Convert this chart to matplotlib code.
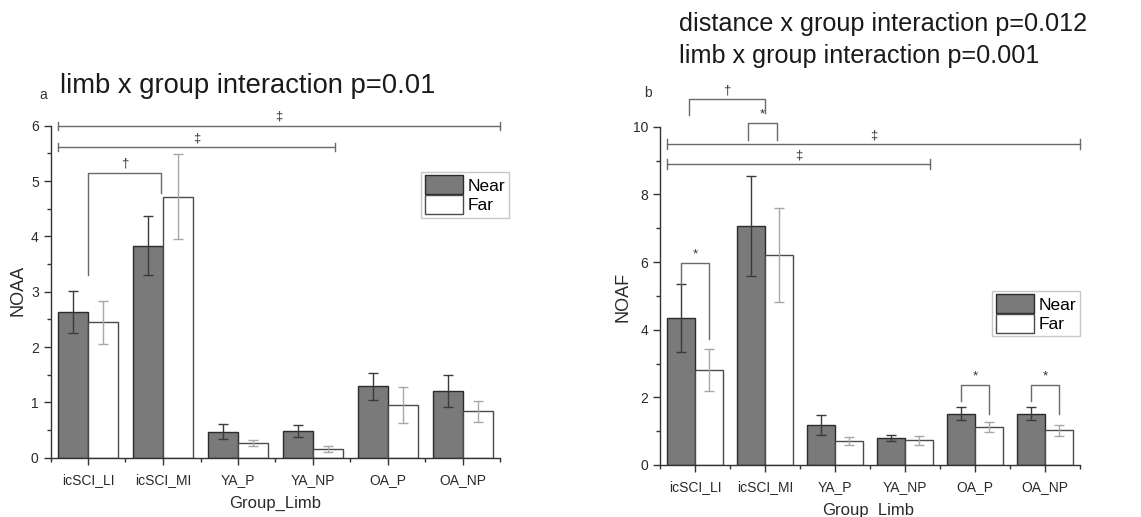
import numpy as np
import matplotlib
matplotlib.use("Agg")
import matplotlib.pyplot as plt
from matplotlib.ticker import MultipleLocator, FixedLocator

plt.rcParams["font.family"] = ["Liberation Sans", "DejaVu Sans"]

# ---- data ------------------------------------------------------------------
groups = ["icSCI_LI", "icSCI_MI", "YA_P", "YA_NP", "OA_P", "OA_NP"]

noaa_near = [2.64, 3.83, 0.47, 0.48, 1.29, 1.21]
noaa_near_err = [0.38, 0.53, 0.14, 0.11, 0.24, 0.29]
noaa_far = [2.45, 4.72, 0.27, 0.16, 0.95, 0.84]
noaa_far_err = [0.39, 0.77, 0.05, 0.06, 0.32, 0.19]

noaf_near = [4.34, 7.07, 1.18, 0.80, 1.52, 1.52]
noaf_near_err = [1.00, 1.48, 0.29, 0.10, 0.19, 0.20]
noaf_far = [2.82, 6.21, 0.71, 0.73, 1.13, 1.03]
noaf_far_err = [0.62, 1.40, 0.13, 0.14, 0.14, 0.16]

# brackets: (x1, x2, y, y_leg1, y_leg2, symbol)
brackets_a = [
    (0.6, 6.5, 6.0, 5.93, 5.93, "‡"),
    (0.6, 4.29, 5.61, 5.54, 5.54, "‡"),
    (1.0, 1.97, 5.15, 3.30, 4.79, "†"),
]
brackets_b = [
    (0.91, 2.0, 10.81, 10.35, 10.40, "†"),
    (1.75, 2.17, 10.1, 9.6, 9.6, "*"),
    (0.6, 6.5, 9.48, 9.33, 9.33, "‡"),
    (0.6, 4.36, 8.89, 8.74, 8.74, "‡"),
    (0.8, 1.2, 5.96, 5.34, 3.72, "*"),
    (4.8, 5.2, 2.36, 1.90, 1.50, "*"),
    (5.8, 6.2, 2.36, 1.90, 1.50, "*"),
]

W, H = 1141, 517
fig = plt.figure(figsize=(W / 100, H / 100), dpi=100)

NEAR_C = "#7a7a7a"
BRK_C = "#6a6a6a"


def panel(rect, near, near_err, far, far_err, ylim, ymajor, yminor, ylabel,
          brackets, leg_anchor, ylab_xy, xlab_xy):
    ax = fig.add_axes(rect)
    x = np.arange(1, len(groups) + 1)
    w = 0.4
    ax.bar(x - w / 2, near, w, color=NEAR_C, edgecolor="#2b2b2b", lw=1,
           label="Near", zorder=2)
    ax.bar(x + w / 2, far, w, color="white", edgecolor="#4a4a4a", lw=1,
           label="Far", zorder=2)
    ax.errorbar(x - w / 2, near, yerr=near_err, fmt="none", ecolor="#3a3a3a",
                elinewidth=1, capsize=3.5, capthick=1, zorder=3)
    ax.errorbar(x + w / 2, far, yerr=far_err, fmt="none", ecolor="#a8a8a8",
                elinewidth=1, capsize=3.5, capthick=1, zorder=3)

    for x1, x2, y, l1, l2, sym in brackets:
        ax.plot([x1, x1, x2, x2], [l1, y, y, l2], color=BRK_C, lw=1,
                clip_on=False, zorder=4)
        if sym == "‡":
            ax.plot([x1, x1], [y, 2 * y - l1], color=BRK_C, lw=1,
                    clip_on=False)
            ax.plot([x2, x2], [y, 2 * y - l2], color=BRK_C, lw=1,
                    clip_on=False)
        ax.annotate(sym, ((x1 + x2) / 2, y), xytext=(0, 2),
                    textcoords="offset points", ha="center", va="bottom",
                    fontsize=9.5, color="#333333", annotation_clip=False)

    ax.set_xlim(0.5, 6.5)
    ax.set_ylim(*ylim)
    ax.set_xticks(x)
    ax.set_xticklabels(groups)
    ax.xaxis.set_minor_locator(FixedLocator(np.arange(0.5, 7, 1)))
    ax.yaxis.set_major_locator(MultipleLocator(ymajor))
    ax.yaxis.set_minor_locator(MultipleLocator(yminor))
    ax.tick_params(axis="both", which="major", length=5, width=1,
                   color="#333333", labelsize=10, labelcolor="#2a2a2a")
    ax.tick_params(axis="both", which="minor", length=3, width=1,
                   color="#333333")
    ax.tick_params(axis="x", pad=6)
    for s in ("top", "right"):
        ax.spines[s].set_visible(False)
    for s in ("left", "bottom"):
        ax.spines[s].set_color("#333333")
        ax.spines[s].set_linewidth(1)

    leg = ax.legend(loc="upper right", bbox_to_anchor=leg_anchor,
                    fontsize=12.5, frameon=True, fancybox=False,
                    borderpad=0.2, borderaxespad=0, handlelength=2.2,
                    handleheight=1.3, handletextpad=0.3, labelspacing=0.05)
    leg.get_frame().set_edgecolor("#bbbbbb")
    leg.get_frame().set_linewidth(1)

    fig.text(ylab_xy[0] / W, 1 - ylab_xy[1] / H, ylabel, rotation=90,
             ha="center", va="center", fontsize=13, color="#2a2a2a")
    fig.text(xlab_xy[0] / W, 1 - xlab_xy[1] / H, "Group_Limb",
             ha="center", va="center", fontsize=12, color="#2a2a2a")
    return ax


panel([50.5 / W, 1 - 457.7 / H, 450 / W, 332 / H],
      noaa_near, noaa_near_err, noaa_far, noaa_far_err,
      (0, 6), 1, 0.5, "NOAA", brackets_a, (1.019, 0.861),
      (18, 290), (275, 503))

panel([660 / W, 1 - 465 / H, 420 / W, 338.3 / H],
      noaf_near, noaf_near_err, noaf_far, noaf_far_err,
      (0, 10), 2, 1, "NOAF", brackets_b, (1.0, 0.515),
      (623, 297), (868, 510))

fig.text(43 / W, 1 - 95 / H, "a", ha="center", va="center", fontsize=10,
         color="#333333")
fig.text(60 / W, 1 - 86 / H, "limb x group interaction p=0.01",
         ha="left", va="center", fontsize=19.7, color="#1a1a1a")
fig.text(648 / W, 1 - 93 / H, "b", ha="center", va="center", fontsize=10,
         color="#333333")
fig.text(679 / W, 1 - 24 / H, "distance x group interaction p=0.012",
         ha="left", va="center", fontsize=18.2, color="#1a1a1a")
fig.text(679 / W, 1 - 56 / H, "limb x group interaction p=0.001",
         ha="left", va="center", fontsize=18.2, color="#1a1a1a")

fig.savefig("out.png", dpi=100)
